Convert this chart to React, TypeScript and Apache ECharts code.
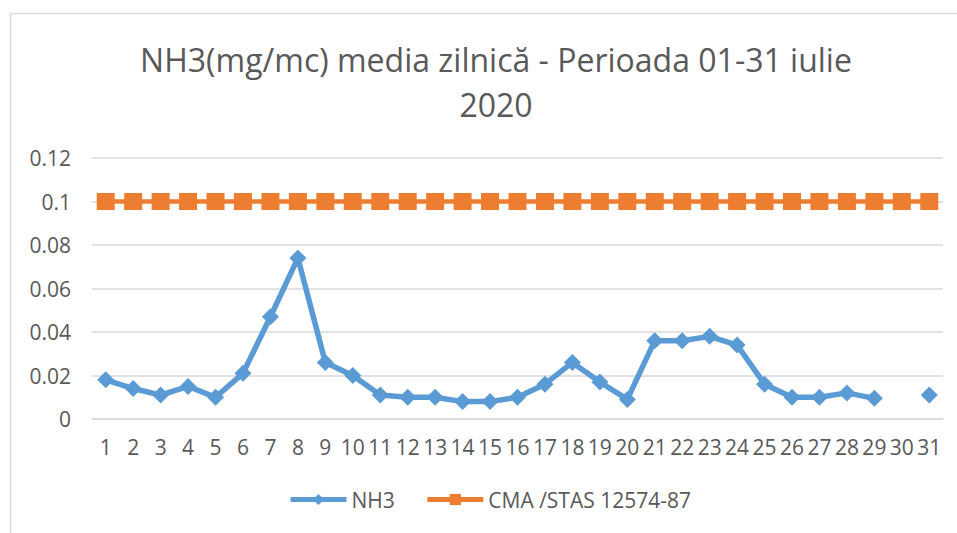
import React, { useEffect, useRef } from "react";
import * as echarts from "echarts";

const days: string[] = Array.from({ length: 31 }, (_, i) => String(i + 1));
const nh3Values: (number | null)[] = [
  0.018, 0.014, 0.011, 0.015, 0.010, 0.021, 0.047, 0.074, 0.026, 0.020,
  0.011, 0.010, 0.010, 0.008, 0.008, 0.010, 0.016, 0.026, 0.017, 0.009,
  0.036, 0.036, 0.038, 0.034, 0.016, 0.010, 0.010, 0.012, 0.0095, null,
  0.011,
];
const cmaValues: number[] = Array.from({ length: 31 }, () => 0.1);
const titleText = "NH3(mg/mc) media zilnică - Perioada 01-31 iulie\n2020";
const nh3Name = "NH3";
const cmaName = "CMA /STAS 12574-87";

const FONT = "'Open Sans', 'Liberation Sans', sans-serif";
const TEXT = "#595959";

export default function App() {
  const ref = useRef<HTMLDivElement>(null);
  useEffect(() => {
    document.body.style.margin = "0";
    if (!ref.current) return;
    const chart = echarts.init(ref.current, undefined, { renderer: "svg" });
    chart.setOption({
      animation: false,
      backgroundColor: "#ffffff",
      title: {
        text: titleText,
        left: 491,
        textAlign: "center",
        top: 32,
        textStyle: {
          fontFamily: FONT,
          fontSize: 32,
          fontWeight: "normal",
          color: TEXT,
          lineHeight: 45,
        },
      },
      graphic: [
        {
          type: "line",
          shape: { x1: 10.5, y1: 13.5, x2: 957, y2: 13.5 },
          style: { stroke: "#d9d9d9", lineWidth: 1.5 },
        },
        {
          type: "line",
          shape: { x1: 10.5, y1: 13.5, x2: 10.5, y2: 533 },
          style: { stroke: "#d9d9d9", lineWidth: 1.5 },
        },
      ],
      legend: {
        bottom: 18,
        left: 283,
        itemWidth: 56,
        itemHeight: 14,
        itemGap: 30,
        lineStyle: { width: 5 },
        textStyle: { fontFamily: FONT, fontSize: 21, color: TEXT },
        data: [nh3Name, cmaName],
      },
      grid: { left: 92, right: 14, top: 158, bottom: 114 },
      xAxis: {
        type: "category",
        data: days,
        boundaryGap: true,
        axisLine: { lineStyle: { color: "#d9d9d9", width: 1.5 } },
        axisTick: { show: false },
        axisLabel: {
          interval: 0,
          margin: 17,
          fontFamily: FONT,
          fontSize: 21,
          color: TEXT,
        },
      },
      yAxis: {
        type: "value",
        min: 0,
        max: 0.12,
        interval: 0.02,
        axisLine: { show: false },
        axisTick: { show: false },
        splitLine: { lineStyle: { color: "#d9d9d9", width: 1.5 } },
        axisLabel: {
          margin: 21,
          fontFamily: FONT,
          fontSize: 21,
          color: TEXT,
        },
      },
      series: [
        {
          name: nh3Name,
          type: "line",
          data: nh3Values,
          connectNulls: false,
          showAllSymbol: true,
          symbol: "diamond",
          symbolSize: 17,
          lineStyle: { color: "#5b9bd5", width: 5.5 },
          itemStyle: { color: "#5b9bd5" },
          z: 3,
        },
        {
          name: cmaName,
          type: "line",
          data: cmaValues,
          showAllSymbol: true,
          symbol: "rect",
          symbolSize: [18, 17],
          lineStyle: { color: "#ed7d31", width: 4.5 },
          itemStyle: { color: "#ed7d31" },
          z: 2,
        },
      ],
    });
    return () => chart.dispose();
  }, []);
  return <div ref={ref} style={{ width: 957, height: 533 }} />;
}
